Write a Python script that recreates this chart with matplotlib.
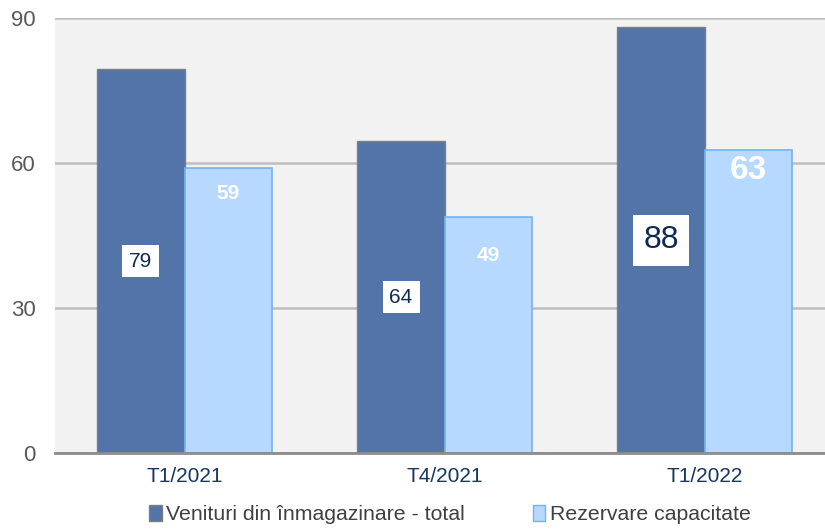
import numpy as np
import matplotlib.pyplot as plt
from matplotlib.patches import Patch

plt.rcParams['font.family'] = ['Liberation Sans', 'DejaVu Sans']

categories = ["T1/2021", "T4/2021", "T1/2022"]
venituri = [79.4, 64.5, 88.1]
rezervare = [59.0, 48.8, 62.7]
series_names = ["Venituri din înmagazinare - total", "Rezervare capacitate"]

dark = "#5274A8"
light = "#B7D9FF"

fig = plt.figure(figsize=(8.25, 5.29), dpi=100)
ax = fig.add_axes([0.0667, 0.1437, 0.9333, 0.8223])
ax.set_facecolor("#F2F2F2")

x = np.arange(len(categories))
w = 0.335
ax.bar(x - w / 2, venituri, w, color=dark, edgecolor="#7F7F7F", linewidth=1, zorder=3)
ax.bar(x + w / 2, rezervare, w, color=light, edgecolor="#74B2F2", linewidth=1.2, zorder=3)

# value labels (sizes and drop below bar top, as in the original)
dark_sizes = [15, 15, 23]
light_sizes = [15, 15, 24]
light_drop = [5.3, 8.0, 4.2]
for i in range(len(categories)):
    ax.text(x[i] - w / 2, venituri[i] / 2, "%d" % round(venituri[i]), ha="center", va="center",
            fontsize=dark_sizes[i], color="#0F2A52", zorder=5,
            bbox=dict(boxstyle="square,pad=0.33", fc="white", ec="none"))
    ax.text(x[i] + w / 2, rezervare[i] - light_drop[i], "%d" % round(rezervare[i]),
            ha="center", va="center",
            fontsize=light_sizes[i], color="white", fontweight="bold", zorder=5)

ax.set_ylim(0, 90)
ax.set_yticks([0, 30, 60, 90])
ax.set_xlim(-0.498, 2.463)
ax.set_xticks(x)
ax.set_xticklabels(categories)
ax.yaxis.grid(True, color="#BFBFBF", linewidth=1.8, zorder=0)
ax.set_axisbelow(True)
for s in ["top", "right", "left"]:
    ax.spines[s].set_visible(False)
ax.spines["bottom"].set_color("#8C8C8C")
ax.spines["bottom"].set_linewidth(2)
ax.spines["bottom"].set_zorder(4)
ax.tick_params(axis="y", length=0, pad=14, labelsize=16, labelcolor="#595959")
ax.tick_params(axis="x", length=0, pad=10, labelsize=15, labelcolor="#17375E")

handles = [Patch(facecolor=dark, edgecolor="#7F7F7F"),
           Patch(facecolor=light, edgecolor="#74B2F2")]
fig.legend(handles, series_names, loc="center", bbox_to_anchor=(0.545, 0.027), ncol=2,
           frameon=False, fontsize=15.3, labelcolor="#404040", handlelength=0.6,
           handleheight=0.8, handletextpad=0.2, columnspacing=3.2)

fig.savefig("out.png", dpi=100)
